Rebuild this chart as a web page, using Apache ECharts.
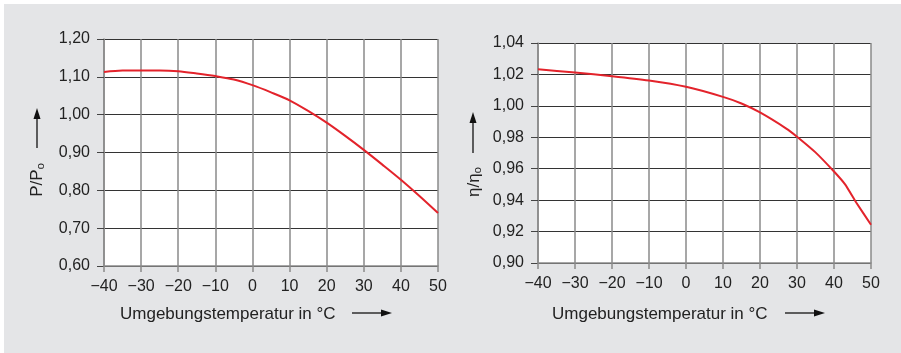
<!DOCTYPE html>
<html><head><meta charset="utf-8">
<script src="https://cdn.jsdelivr.net/npm/echarts@6/dist/echarts.min.js"></script>
<style>html,body{margin:0;padding:0;background:#fff}#c{width:901px;height:353px}</style>
</head><body><div id="c"></div>
<script>
// Left chart: power ratio P/P0 vs ambient temperature
const powerTemps = [-40,-35,-30,-25,-20,-15,-10,-5,0,5,10,15,20,25,30,35,40,45,50];
const powerRatio = [1.113,1.117,1.117,1.117,1.115,1.109,1.102,1.093,1.078,1.059,1.038,1.010,0.979,0.944,0.907,0.868,0.828,0.785,0.740];
// Right chart: efficiency ratio eta/eta0 vs ambient temperature
const effTemps = [-40,-30,-20,-10,0,10,15,20,27,30,35,40,43,46,50];
const effRatio = [1.0233,1.0212,1.0189,1.0161,1.0121,1.0057,1.0015,0.9958,0.9857,0.9804,0.9704,0.9582,0.9500,0.9385,0.9243];
const xTitle = 'Umgebungstemperatur in °C';
const leftYTitle = 'P/P';
const rightYTitle = 'η/η';

const font = '"Liberation Sans", Arial, sans-serif';
const chart = echarts.init(document.getElementById('c'), null, {renderer:'canvas'});
const fmtX = v => String(v).replace('-', '\u2212');
const fmtY = v => v.toFixed(2).replace('.', ',');
function xAx(i){ return {type:'value', gridIndex:i, min:-40, max:50, interval:10,
  axisLine:{show:true, onZero:false, lineStyle:{color:'#8a8a8a', width:1.5}},
  axisTick:{show:true, length:6, lineStyle:{color:'#8a8a8a', width:1.5}},
  axisLabel:{formatter:fmtX, fontFamily:font, fontSize:16, color:'#222', margin:13},
  splitLine:{show:true, lineStyle:{color:'#8a8a8a', width:1.5}}}; }
function yAx(i,min,max,interval){ return {type:'value', gridIndex:i, min, max, interval,
  axisLine:{show:true, onZero:false, lineStyle:{color:'#8a8a8a', width:1.5}},
  axisTick:{show:true, length:7, lineStyle:{color:'#444', width:1}},
  axisLabel:{formatter:fmtY, fontFamily:font, fontSize:16, color:'#222', margin:14},
  splitLine:{show:true, lineStyle:{color:'#333', width:1}}}; }
function arrowV(x, yTop, yBot){ return [
  {type:'line', shape:{x1:x, y1:yBot, x2:x, y2:yTop+8}, style:{stroke:'#111', lineWidth:1.3}},
  {type:'polygon', shape:{points:[[x,yTop],[x-3.5,yTop+11],[x+3.5,yTop+11]]}, style:{fill:'#111'}}]; }
function arrowH(xL, xR, y){ return [
  {type:'line', shape:{x1:xL, y1:y, x2:xR-8, y2:y}, style:{stroke:'#111', lineWidth:1.3}},
  {type:'polygon', shape:{points:[[xR,y],[xR-11,y-3.5],[xR-11,y+3.5]]}, style:{fill:'#111'}}]; }
function yName(x, y, main){ return {type:'text', x, y, rotation:Math.PI/2,
  style:{text:'{m|'+main+'}{s|o}', rich:{m:{fontFamily:font, fontSize:17, fill:'#222'}, s:{fontFamily:font, fontSize:11, fill:'#222', padding:[7,0,0,0]}},
    align:'center', verticalAlign:'middle'}}; }
chart.setOption({
  backgroundColor:'#fff',
  animation:false,
  graphic:[
    {type:'rect', shape:{x:4, y:4, width:897, height:349}, style:{fill:'#e4e5e7'}, z:-10},
    {type:'rect', shape:{x:104, y:39, width:334, height:227}, style:{fill:'#fff'}, z:-9},
    {type:'rect', shape:{x:538, y:43, width:333, height:220}, style:{fill:'#fff'}, z:-9},
    yName(37, 180, leftYTitle),
    yName(474, 182, rightYTitle),
    ...arrowV(37, 108, 148),
    ...arrowV(473, 112, 153),
    {type:'text', x:120, y:314, style:{text:xTitle, fontFamily:font, fontSize:17, fill:'#222', verticalAlign:'middle'}},
    {type:'text', x:552, y:314, style:{text:xTitle, fontFamily:font, fontSize:17, fill:'#222', verticalAlign:'middle'}},
    ...arrowH(352, 392, 313),
    ...arrowH(785, 825, 313)
  ],
  grid:[
    {left:104, top:39, width:334, height:227},
    {left:538, top:43, width:333, height:220}
  ],
  xAxis:[xAx(0), xAx(1)],
  yAxis:[yAx(0,0.6,1.2,0.1), yAx(1,0.9,1.04,0.02)],
  series:[
    {type:'line', xAxisIndex:0, yAxisIndex:0, data:powerTemps.map((t,i)=>[t,powerRatio[i]]), smooth:0.3, showSymbol:false,
      lineStyle:{color:'#e3232b', width:2}},
    {type:'line', xAxisIndex:1, yAxisIndex:1, data:effTemps.map((t,i)=>[t,effRatio[i]]), smooth:0.15, showSymbol:false,
      lineStyle:{color:'#e3232b', width:2}}
  ]
});
</script></body></html>
